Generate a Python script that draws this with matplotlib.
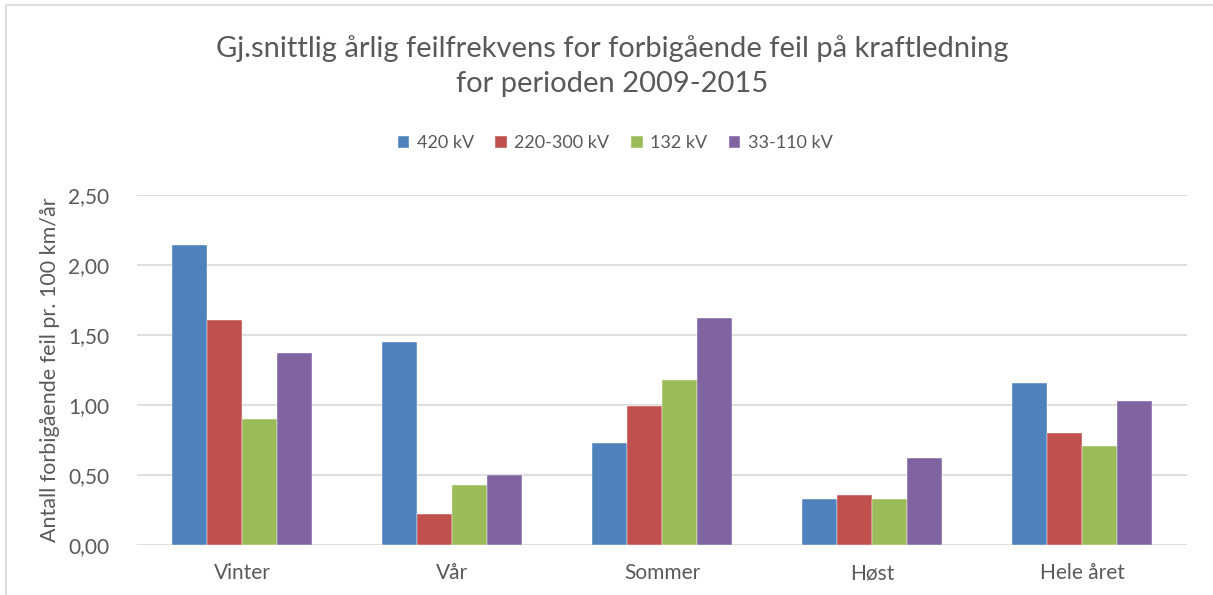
import numpy as np
import matplotlib.pyplot as plt
from matplotlib.patches import Rectangle

plt.rcParams['font.family'] = ['Lato', 'DejaVu Sans']

# Data
sesonger = ["Vinter", "Vår", "Sommer", "Høst", "Hele året"]
serier = ["420 kV", "220-300 kV", "132 kV", "33-110 kV"]
v420 = [2.14, 1.45, 0.73, 0.33, 1.16]
v220 = [1.61, 0.22, 0.99, 0.36, 0.80]
v132 = [0.90, 0.43, 1.18, 0.33, 0.71]
v33 = [1.37, 0.50, 1.62, 0.62, 1.03]
farger = ["#4F81BD", "#C0504D", "#9BBB59", "#8064A2"]

grå = "#595959"

fig = plt.figure(figsize=(12.13, 5.95), dpi=100)
ax = fig.add_axes([137 / 1213, 1 - 545 / 595, 1050 / 1213, 350 / 595])

# ramme rundt diagrammet
fig.patches.append(Rectangle((6 / 1213, -0.1), 1.2, 1 - 5 / 595 + 0.1,
                             transform=fig.transFigure, fill=False,
                             edgecolor="#D9D9D9", lw=1.2))

x = np.arange(len(sesonger))
b = 1 / 6
for i, (vals, navn) in enumerate(zip([v420, v220, v132, v33], serier)):
    ax.bar(x - 2 * b + (i + 0.5) * b, vals, b, color=farger[i], label=navn,
           edgecolor="white", linewidth=0.3, zorder=3)

ax.set_xlim(-0.5, len(sesonger) - 0.5)
ax.set_ylim(0, 2.5)
ax.set_yticks(np.arange(0, 2.51, 0.5))
ax.set_yticklabels([f"{v:.2f}".replace(".", ",") for v in np.arange(0, 2.51, 0.5)])
ax.set_xticks(x)
ax.set_xticklabels(sesonger)
ax.grid(axis="y", color="#D9D9D9", lw=1.2, zorder=0)
for s in ax.spines.values():
    s.set_visible(False)
ax.tick_params(length=0, colors=grå, labelsize=15)
ax.tick_params(axis="y", pad=20)
ax.tick_params(axis="x", pad=13)
ax.set_ylabel("Antall forbigående feil pr. 100 km/år", color=grå, fontsize=15.5, labelpad=6)

fig.text(0.505, 1 - 66 / 595, "Gj.snittlig årlig feilfrekvens for forbigående feil på kraftledning\nfor perioden 2009-2015",
         ha="center", va="center", fontsize=21, color=grå, linespacing=1.45)

leg = fig.legend(loc="center", bbox_to_anchor=(0.507, 1 - 143 / 595), ncol=4, frameon=False,
                 fontsize=13, handlelength=0.65, handleheight=0.65, columnspacing=1.2,
                 handletextpad=0.4)
for t in leg.get_texts():
    t.set_color(grå)

fig.savefig("out.png", dpi=100)
